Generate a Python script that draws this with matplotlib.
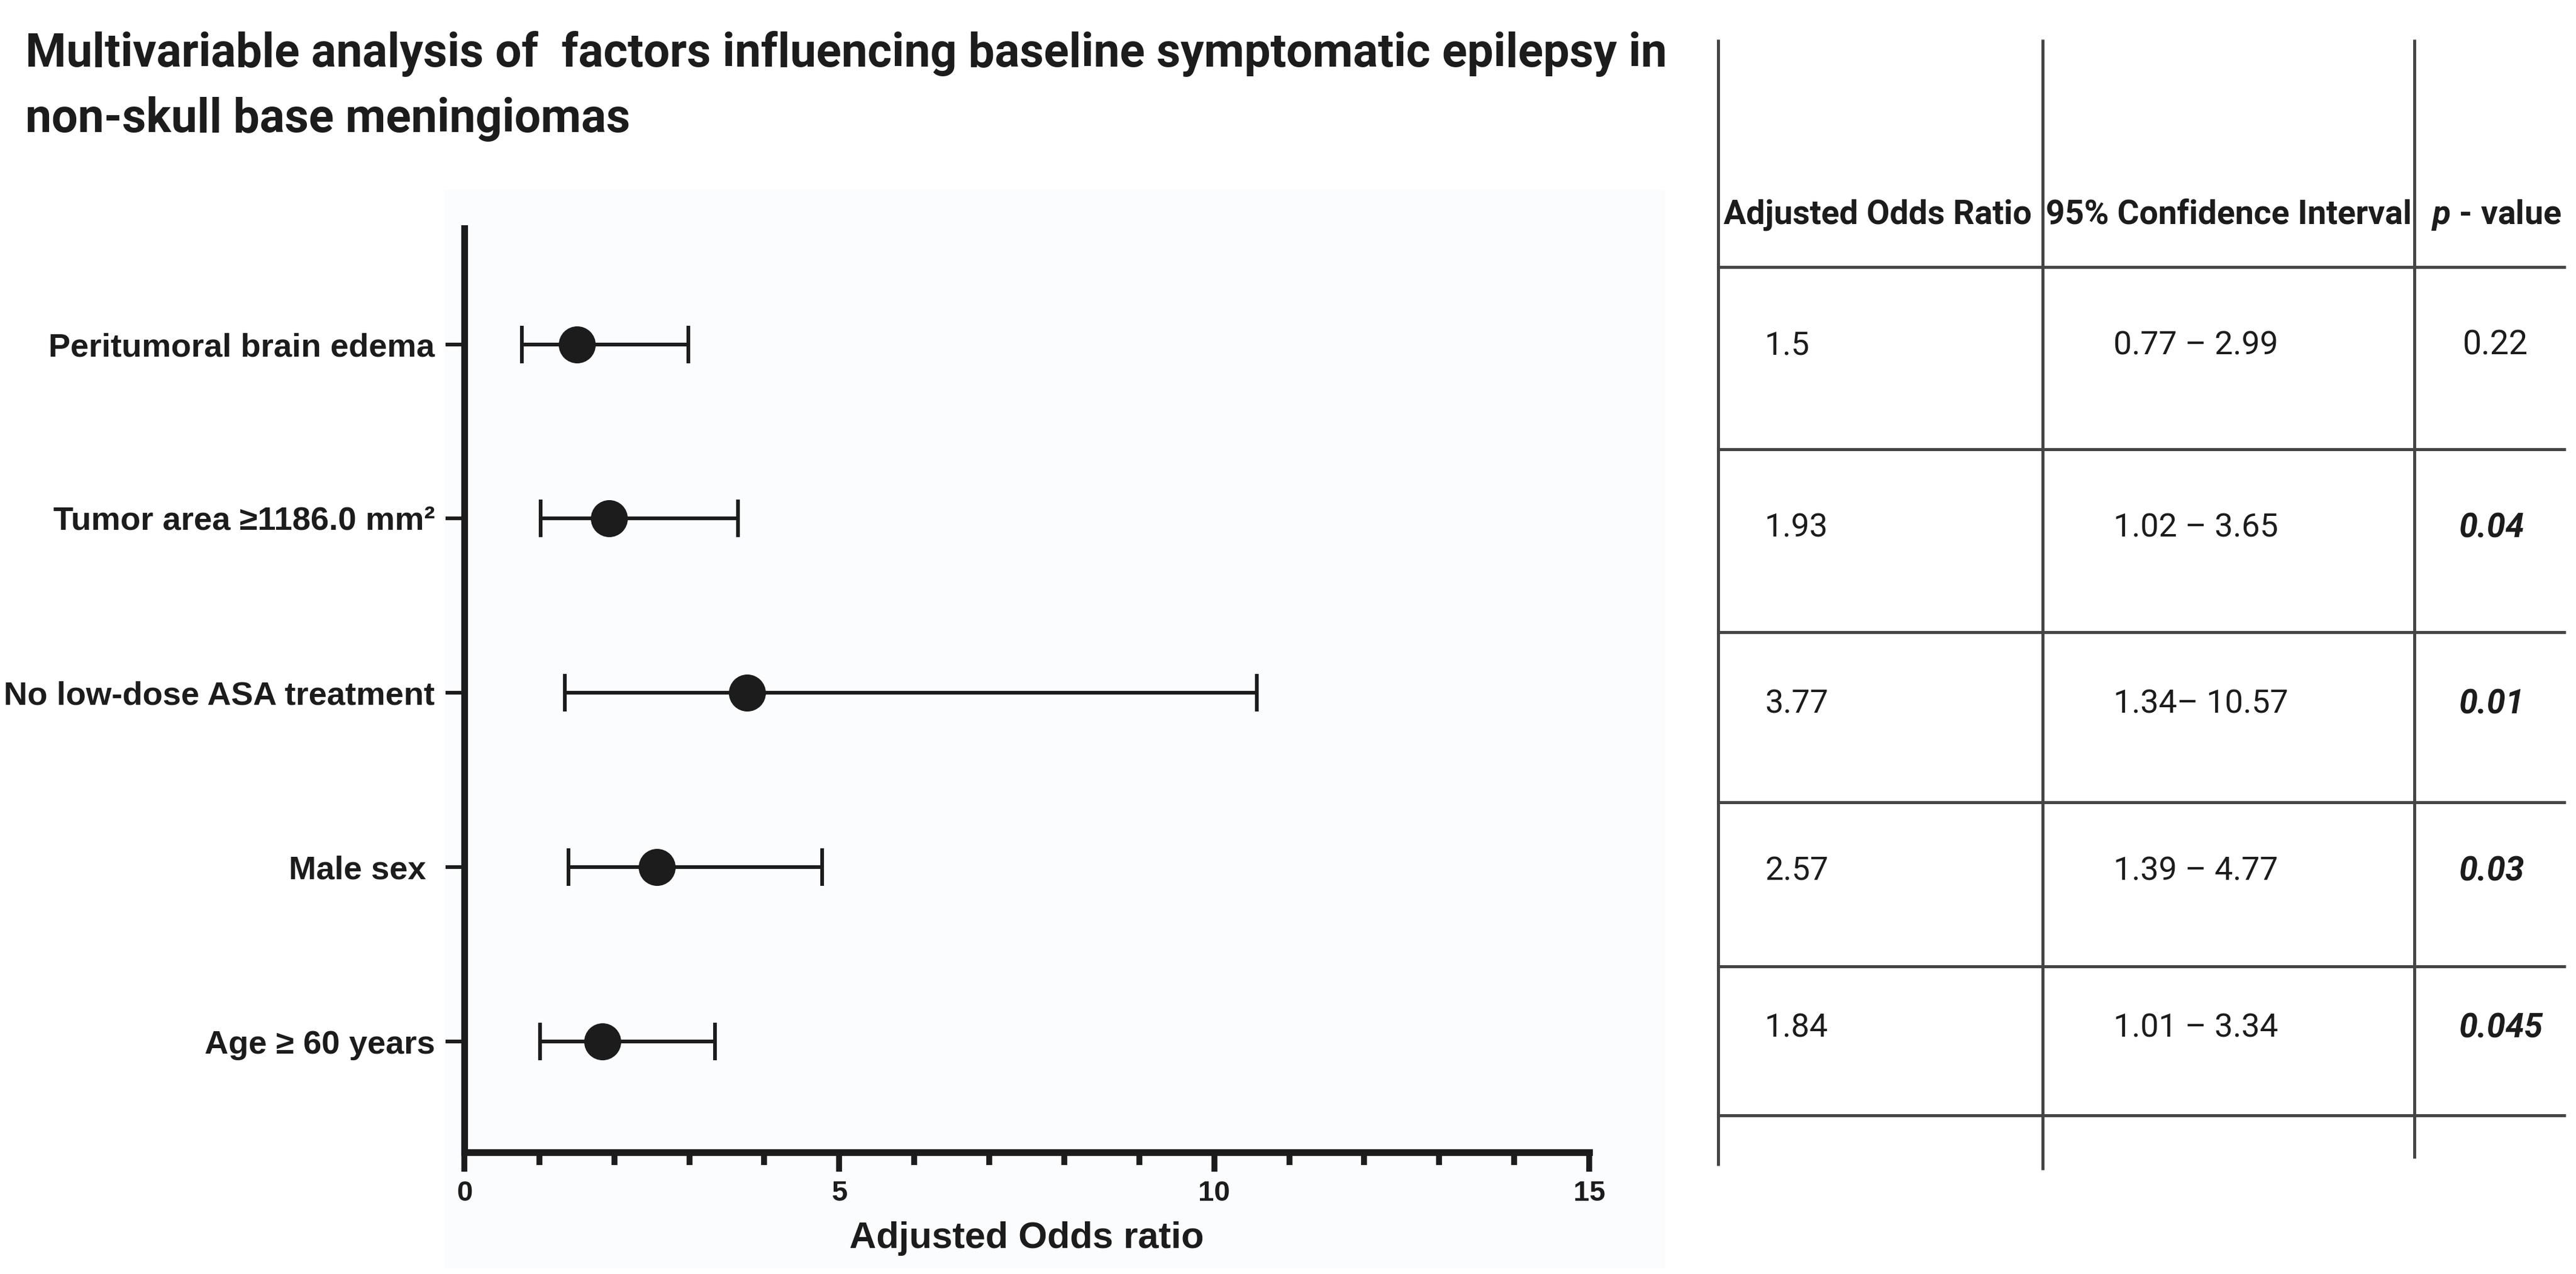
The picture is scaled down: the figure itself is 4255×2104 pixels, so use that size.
import numpy as np
import matplotlib
matplotlib.use("Agg")
import matplotlib.pyplot as plt
from matplotlib.patches import Rectangle

factors = ["Peritumoral brain edema", "Tumor area \u22651186.0 mm\u00b2",
           "No low-dose ASA treatment", "Male sex ", "Age \u2265 60 years"]
aor = [1.5, 1.93, 3.77, 2.57, 1.84]
ci_lo = [0.77, 1.02, 1.34, 1.39, 1.01]
ci_hi = [2.99, 3.65, 10.57, 4.77, 3.34]
ci_txt = ["0.77 \u2013 2.99", "1.02 \u2013 3.65", "1.34\u2013 10.57", "1.39 \u2013 4.77", "1.01 \u2013 3.34"]
p_txt = ["0.22", "0.04", "0.01", "0.03", "0.045"]
p_sig = [False, True, True, True, True]
headers = ["Adjusted Odds Ratio", "95% Confidence Interval", "$p$ - value"]
title = ["Multivariable analysis of  factors influencing baseline symptomatic epilepsy in",
         "non-skull base meningiomas"]

W, H, DPI = 4255, 2104, 200
INK = "#1c1c1c"
GRID = "#454545"
NARROW = ["Liberation Sans Narrow", "Liberation Sans", "DejaVu Sans"]
plt.rcParams["mathtext.fontset"] = "custom"
plt.rcParams["mathtext.it"] = "Roboto:italic:bold"
plt.rcParams["mathtext.rm"] = "Roboto:bold"

fig = plt.figure(figsize=(W / DPI, H / DPI), dpi=DPI)
fig.patch.set_facecolor("white")
lay = fig.add_axes([0, 0, 1, 1])
lay.set_xlim(0, W); lay.set_ylim(H, 0); lay.axis("off")
R = fig.canvas.get_renderer()


def fit(t, width):
    w = t.get_window_extent(R).width
    t.set_fontsize(t.get_fontsize() * width / w)
    return t.get_fontsize()


# title
t1 = lay.text(42, 110, title[0], family=["Roboto", "DejaVu Sans"], weight="bold",
              fontsize=30, color=INK, va="baseline")
fs = fit(t1, 2713)
lay.text(42, 218, title[1], family=["Roboto", "DejaVu Sans"], weight="bold",
         fontsize=fs, color=INK, va="baseline")

# forest plot panel
lay.add_patch(Rectangle((733, 313), 2750 - 733, 2095 - 313, fc="#fbfcfd", ec="none"))
ax = fig.add_axes([767 / W, 1 - 1903 / H, (2625 - 767) / W, (1903 - 377) / H])
ax.patch.set_alpha(0)
rows = np.arange(len(factors))
ax.errorbar(aor, rows, xerr=[np.subtract(aor, ci_lo), np.subtract(ci_hi, aor)],
            fmt="o", ms=21, color=INK, ecolor=INK, elinewidth=2.2,
            capsize=11, capthick=2.2, zorder=3)
ax.set_xlim(0, 15)
ax.set_ylim(len(rows) - 1 + 0.634, -0.665)
ax.set_xticks([0, 5, 10, 15])
ax.set_xticks(range(16), minor=True)
ax.set_yticks(rows, factors)
for s in ("top", "right"):
    ax.spines[s].set_visible(False)
for s in ("left", "bottom"):
    ax.spines[s].set_linewidth(4)
    ax.spines[s].set_color(INK)
ax.tick_params(axis="x", which="major", length=11.5, width=3.5, pad=5, color=INK)
ax.tick_params(axis="x", which="minor", length=7.5, width=3.5, color=INK)
ax.tick_params(axis="y", length=11, width=2.2, pad=6.5, color=INK)
for lab in ax.get_xticklabels():
    lab.set_family(NARROW); lab.set_weight("bold"); lab.set_fontsize(17); lab.set_color(INK)
ylabs = ax.get_yticklabels()
for lab in ylabs:
    lab.set_family(NARROW); lab.set_weight("bold"); lab.set_fontsize(20); lab.set_color(INK)
fy = fit(ylabs[1], 630)
for lab in ylabs:
    lab.set_fontsize(fy)
xl = ax.set_xlabel("Adjusted Odds ratio", family=["Liberation Sans", "DejaVu Sans"],
                   weight="bold", fontsize=20, color=INK)
fit(xl, 586)
ax.xaxis.set_label_coords(0.5, (1903 - 2045) / (1903 - 377))
xl.set_va("center")

# table on the right
col_x = [2838, 3374, 3988]
col_bottom = [1925, 1932, 1913]
hlines = [441, 742, 1044, 1325, 1596, 1842]
for x, yb in zip(col_x, col_bottom):
    lay.plot([x, x], [65, yb], color=GRID, lw=1.8, solid_capstyle="butt")
for y in hlines:
    lay.plot([col_x[0], 4238], [y, y], color=GRID, lw=1.8, solid_capstyle="butt")

head_x = [2847, 3379, 4016]
hts = [lay.text(x, 355, h, family=["Roboto", "DejaVu Sans"], weight="bold",
                fontsize=20, color=INK, va="center") for x, h in zip(head_x, headers)]
fh = fit(hts[0], 508)
for t in hts:
    t.set_fontsize(fh)

row_y = [(a + b) / 2 - 21 for a, b in zip(hlines[:-1], hlines[1:])]
vt = lay.text(3491, row_y[0], ci_txt[0], family=["Roboto", "DejaVu Sans"],
              fontsize=18, color=INK, va="center")
fv = fit(vt, 272)
vt.remove()
for i, y in enumerate(row_y):
    lay.text(2915, y, f"{aor[i]:g}", family=["Roboto", "DejaVu Sans"], fontsize=fv,
             color=INK, va="center")
    lay.text(3491, y, ci_txt[i], family=["Roboto", "DejaVu Sans"], fontsize=fv,
             color=INK, va="center")
    lay.text(4062 if p_sig[i] else 4068, y, p_txt[i], family=["Roboto", "DejaVu Sans"],
             fontsize=fv * 1.03, color=INK, va="center",
             weight="bold" if p_sig[i] else "normal",
             style="italic" if p_sig[i] else "normal")

fig.savefig("out.png", dpi=DPI, facecolor="white")
